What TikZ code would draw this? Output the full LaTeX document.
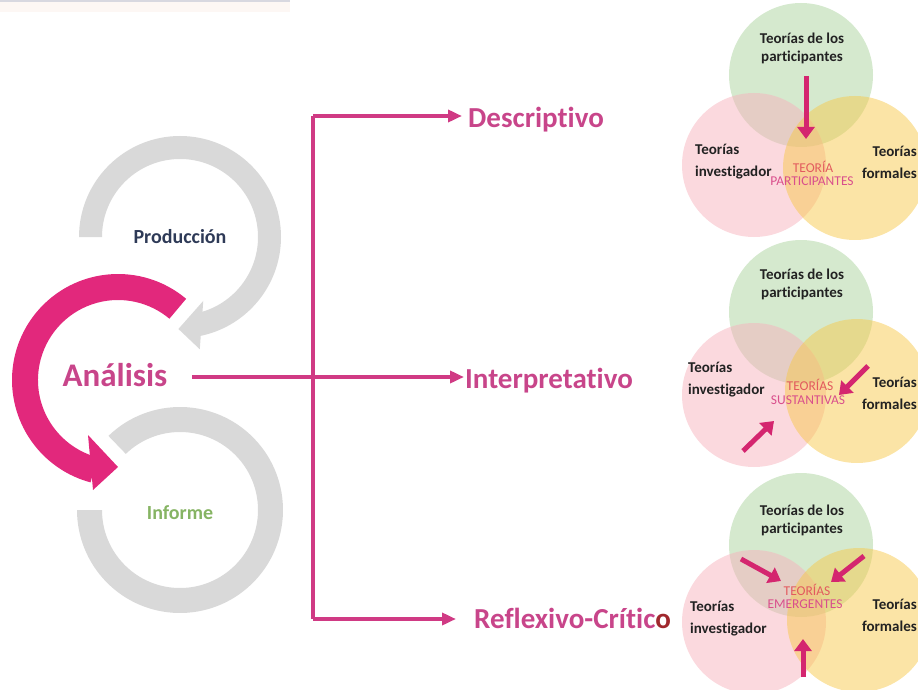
\documentclass[tikz,border=0pt]{standalone}
\usepackage{fontspec}
\setmainfont{Carlito}[Ligatures={NoCommon,NoContextual}]
\usetikzlibrary{arrows.meta}
\definecolor{ringgray}{HTML}{D9D9D9}
\definecolor{pinkarc}{HTML}{E2287C}
\definecolor{pinkline}{HTML}{D03A84}
\definecolor{pinktext}{HTML}{C8458A}
\definecolor{navytext}{HTML}{2E3A57}
\definecolor{greentext}{HTML}{86B463}
\definecolor{darkredo}{HTML}{A0282D}
\definecolor{vennarrow}{HTML}{D4266F}
\definecolor{venntext}{HTML}{222222}
\definecolor{vgreen}{HTML}{ABD39E}
\definecolor{vpink}{HTML}{F7B3BD}
\definecolor{vyellow}{HTML}{F7C94D}
\definecolor{coral}{HTML}{E25A5E}
\definecolor{magtext}{HTML}{D94F8C}
\definecolor{bannergray}{HTML}{D8D8E0}
\definecolor{bannertint}{HTML}{FDF7F4}
\begin{document}
\begin{tikzpicture}[x=1pt,y=-1pt,
  bigtxt/.style={inner sep=0pt, text=pinktext, font=\fontsize{29}{34}\selectfont\bfseries},
  vtxt/.style={inner sep=0pt, text=venntext, font=\fontsize{15}{18}\selectfont\bfseries},
  vside/.style={inner sep=0pt, text=venntext, font=\fontsize{15}{22}\selectfont\bfseries},
  vcap/.style={inner sep=0pt, font=\fontsize{13.5}{15}\selectfont},
  branch/.style={draw=pinkline, line width=4pt},
  branchar/.style={branch, -{Triangle[length=14pt,width=12pt]}},
  varrow/.style={draw=vennarrow, line width=5pt, -{Triangle[length=12pt,width=17pt]}},
  vcirc/.style={fill opacity=0.5},
]
\useasboundingbox (0,0) rectangle (918,690);

% banner remnant at top
\fill[bannertint] (0,2) rectangle (290,12);
\fill[bannergray] (0,0) rectangle (290,2);

% ---------------- Venn diagrams ----------------
% top
\fill[vgreen, vcirc] (801,75) circle[radius=72];
\fill[vpink, vcirc] (754,165) circle[radius=72];
\fill[vyellow, vcirc] (855,168) circle[radius=72];
% middle
\fill[vgreen, vcirc] (801,312) circle[radius=72];
\fill[vpink, vcirc] (754,395) circle[radius=72];
\fill[vyellow, vcirc] (857,391) circle[radius=72];
% bottom
\fill[vgreen, vcirc] (801,545) circle[radius=72];
\fill[vpink, vcirc] (754,622) circle[radius=72];
\fill[vyellow, vcirc] (859,620) circle[radius=72];

% top venn texts
\node[vtxt, align=center] (tp1) at (802,48) {Teorías de los\\participantes};
\node[vside, align=left, anchor=west] (ti1) at (695,162) {Teorías\\investigador};
\node[vside, align=right, anchor=east] (tf1) at (917,162) {Teorías\\formales};
\node[vcap, text=coral] (c1a) at (813,167) {TEORÍA};
\node[vcap, text=magtext] (c1b) at (812,181) {PARTICIPANTES};
\coordinate (a1s) at (806,76);
\coordinate (a1e) at (806,139);
\draw[varrow] (a1s) -- (a1e);

% middle venn texts
\node[vtxt, align=center] (tp2) at (802,284) {Teorías de los\\participantes};
\node[vside, align=left, anchor=west] (ti2) at (688,380) {Teorías\\investigador};
\node[vside, align=right, anchor=east] (tf2) at (917,393) {Teorías\\formales};
\node[vcap, text=coral] (c2a) at (810,385) {TEORÍAS};
\node[vcap, text=magtext] (c2b) at (808,400) {SUSTANTIVAS};
\coordinate (a2s) at (868,366);
\coordinate (a2e) at (839,395);
\coordinate (a3s) at (743,451);
\coordinate (a3e) at (774,421);
\draw[varrow] (a2s) -- (a2e);
\draw[varrow] (a3s) -- (a3e);

% bottom venn texts
\node[vtxt, align=center] (tp3) at (802,520) {Teorías de los\\participantes};
\node[vside, align=left, anchor=west] (ti3) at (690,619) {Teorías\\investigador};
\node[vside, align=right, anchor=east] (tf3) at (917,615) {Teorías\\formales};
\node[vcap, text=coral] (c3a) at (807,590) {TEORÍAS};
\node[vcap, text=magtext] (c3b) at (805,604) {EMERGENTES};
\coordinate (a4s) at (741,559);
\coordinate (a4e) at (781,581);
\coordinate (a5s) at (864,556);
\coordinate (a5e) at (831,582);
\coordinate (a6s) at (803,677);
\coordinate (a6e) at (803,639);
\draw[varrow] (a4s) -- (a4e);
\draw[varrow] (a5s) -- (a5e);
\draw[varrow] (a6s) -- (a6e);

% ---------------- cycle on the left ----------------
% Produccion ring with arrowhead
\begin{scope}[shift={(180,237)}]
  \fill[ringgray] (180:101) arc[start angle=180, end angle=440, radius=101]
     -- (440:78) arc[start angle=440, end angle=180, radius=78] -- cycle;
  \fill[ringgray] (70:68) -- (80:114) -- (91:92) -- cycle;
\end{scope}
% Informe ring
\begin{scope}[shift={(180,510)}]
  \fill[ringgray] (226:103) arc[start angle=226, end angle=540, radius=103]
     -- (540:78) arc[start angle=540, end angle=226, radius=78] -- cycle;
\end{scope}
% Analisis pink arc with arrowhead
\begin{scope}[shift={(118,380)}]
  \fill[pinkarc] (310:106) arc[start angle=310, end angle=105, radius=106]
     -- (105:80) arc[start angle=105, end angle=310, radius=80] -- cycle;
  \fill[pinkarc] (-30,55) -- (-25,110) -- (0,87) -- cycle;
\end{scope}

\node[inner sep=0pt, text=navytext, font=\fontsize{20}{24}\selectfont\bfseries] (prod) at (180,237) {Producción};
\node[inner sep=0pt, text=greentext, font=\fontsize{20}{24}\selectfont\bfseries] (inf) at (180,513) {Informe};
\node[bigtxt, anchor=base, font=\fontsize{33}{38}\selectfont\bfseries] (anal) at (115,386) {Análisis};

% ---------------- branches ----------------
\node[bigtxt, anchor=base west] (desc) at (468,128) {Descriptivo};
\node[bigtxt, anchor=base west] (interp) at (465,388) {Interpretativo};
\node[bigtxt, anchor=base west] (refl) at (474,628) {Reflexivo-Crític\textcolor{darkredo}{o}};

\coordinate (astart) at (192,377);
\coordinate (jmid) at (313,377);
\coordinate (jtop) at (313,116);
\coordinate (jbot) at (313,619);
\coordinate (dtip) at (462,116);
\coordinate (itip) at (464,377);
\coordinate (rtip) at (456,619);

\draw[branch] (jtop) -- (jbot);
\draw[branchar] (jtop) -- (dtip);
\draw[branchar] (astart) -- (itip);
\draw[branchar] (jbot) -- (rtip);
\end{tikzpicture}
\end{document}
